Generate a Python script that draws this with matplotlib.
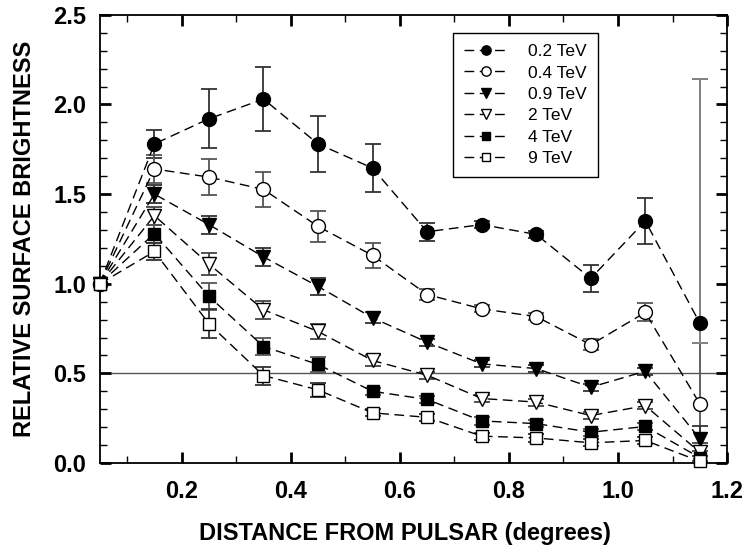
import matplotlib
matplotlib.use("Agg")
import matplotlib.pyplot as plt
import numpy as np
from matplotlib.ticker import MultipleLocator

plt.rcParams["font.family"] = ["Liberation Sans", "DejaVu Sans"]

distance = [0.05, 0.15, 0.25, 0.35, 0.45, 0.55, 0.65, 0.75, 0.85, 0.95, 1.05, 1.15]

labels = ["0.2 TeV", "0.4 TeV", "0.9 TeV", "2 TeV", "4 TeV", "9 TeV"]

b_02 = [1.0, 1.78, 1.92, 2.03, 1.78, 1.645, 1.29, 1.33, 1.275, 1.03, 1.35, 0.78]
e_02_lo = [0.0, 0.08, 0.165, 0.18, 0.155, 0.135, 0.05, 0.02, 0.02, 0.075, 0.13, 0.11]
e_02_hi = [0.0, 0.08, 0.165, 0.18, 0.155, 0.135, 0.05, 0.02, 0.02, 0.075, 0.13, 1.36]

b_04 = [1.0, 1.64, 1.595, 1.526, 1.32, 1.158, 0.94, 0.86, 0.817, 0.66, 0.84, 0.33]
e_04 = [0.0, 0.08, 0.1, 0.1, 0.085, 0.07, 0.03, 0.02, 0.02, 0.03, 0.05, 0.34]

b_09 = [1.0, 1.50, 1.33, 1.15, 0.985, 0.81, 0.674, 0.553, 0.527, 0.423, 0.512, 0.135]
e_09 = [0.0, 0.05, 0.05, 0.05, 0.045, 0.03, 0.02, 0.02, 0.02, 0.02, 0.02, 0.07]

b_2 = [1.0, 1.38, 1.11, 0.855, 0.734, 0.572, 0.49, 0.36, 0.34, 0.265, 0.32, 0.06]
e_2 = [0.0, 0.05, 0.06, 0.05, 0.04, 0.03, 0.02, 0.02, 0.02, 0.02, 0.02, 0.05]

b_4 = [1.0, 1.28, 0.93, 0.65, 0.55, 0.40, 0.355, 0.235, 0.22, 0.172, 0.204, 0.03]
e_4 = [0.0, 0.05, 0.075, 0.05, 0.04, 0.02, 0.02, 0.02, 0.02, 0.02, 0.02, 0.04]

b_9 = [1.0, 1.18, 0.777, 0.488, 0.408, 0.28, 0.255, 0.15, 0.14, 0.113, 0.126, 0.01]
e_9 = [0.0, 0.05, 0.08, 0.05, 0.04, 0.02, 0.02, 0.02, 0.02, 0.02, 0.02, 0.03]

series = [
    (b_02, [e_02_lo, e_02_hi], "o", "black", "#333333"),
    (b_04, e_04, "o", "white", "#555555"),
    (b_09, e_09, "v", "black", "#333333"),
    (b_2, e_2, "v", "white", "#444444"),
    (b_4, e_4, "s", "black", "#555555"),
    (b_9, e_9, "s", "white", "#333333"),
]

fig = plt.figure(figsize=(7.45, 5.48), dpi=100)
ax = fig.add_axes([0.134, 0.155, 0.842, 0.818])

ax.axhline(0.5, color="#555555", lw=1.0, zorder=1)

for (values, errors, marker, face, ecol), label in zip(series, labels):
    ax.errorbar(
        distance, values, yerr=errors,
        fmt="none", ecolor=ecol, elinewidth=1.3, capsize=5.5, capthick=1.3,
        zorder=2,
    )
    ms = 10 if marker != "s" else 8.5
    ax.plot(
        distance, values, linestyle=(0, (7, 4)), color="black", lw=1.0,
        marker=marker, markersize=ms, markerfacecolor=face,
        markeredgecolor="black", markeredgewidth=1.0, label=label, zorder=3,
        clip_on=False,
    )

# the long bar at the last distance is drawn in light grey
ax.errorbar(
    distance[-1:], b_02[-1:], yerr=[e_02_lo[-1:], e_02_hi[-1:]],
    fmt="none", ecolor="#8a8a8a", elinewidth=1.3, capsize=5.5, capthick=1.3,
    zorder=2.5,
)

ax.set_xlim(0.05, 1.2)
ax.set_ylim(0.0, 2.5)
ax.xaxis.set_minor_locator(MultipleLocator(0.1))
ax.yaxis.set_major_locator(MultipleLocator(0.5))
ax.yaxis.set_minor_locator(MultipleLocator(0.1))
ax.tick_params(which="both", direction="in", top=True, right=True)
ax.tick_params(which="major", length=8, width=2.0, labelsize=17)
ax.tick_params(axis="x", which="major", pad=12)
ax.tick_params(axis="y", which="major", pad=10)
ax.tick_params(which="minor", length=5, width=1.0)
ax.set_xticks([0.2, 0.4, 0.6, 0.8, 1.0, 1.2])
ax.set_xticklabels(["0.2", "0.4", "0.6", "0.8", "1.0", "1.2"])
for lab in ax.get_xticklabels() + ax.get_yticklabels():
    lab.set_fontweight("bold")
for spine in ax.spines.values():
    spine.set_linewidth(1.3)

ax.set_xlabel("DISTANCE FROM PULSAR (degrees)", fontsize=17, fontweight="bold")
ax.xaxis.set_label_coords(0.486, -0.132)
ax.set_ylabel("RELATIVE SURFACE BRIGHTNESS", fontsize=17, fontweight="bold")
ax.yaxis.set_label_coords(-0.102, 0.5)

leg = ax.legend(
    loc="upper left", bbox_to_anchor=(0.563, 0.960), borderaxespad=0,
    fontsize=12.5, frameon=True, fancybox=False, edgecolor="black",
    framealpha=1, markerscale=0.67, handlelength=2.5, borderpad=0.65,
    labelspacing=0.36, handletextpad=1.15,
)
leg.get_frame().set_linewidth(1.0)

fig.savefig("out.png", dpi=100)
